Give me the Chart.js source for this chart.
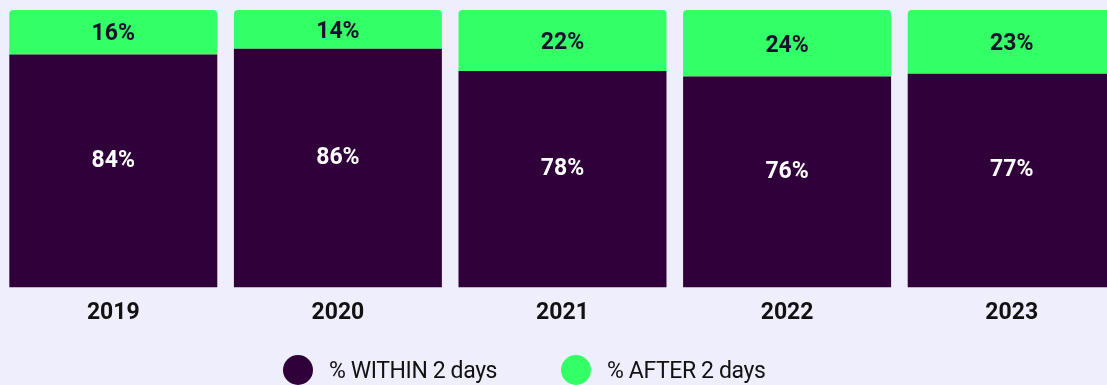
<!DOCTYPE html>
<html>
<head>
<meta charset="utf-8">
<script src="https://cdn.jsdelivr.net/npm/chart.js@4.4.0/dist/chart.umd.min.js"></script>
<style>
  html, body { margin: 0; padding: 0; background: #efeefc; overflow: hidden; }
  #wrap { position: relative; width: 1124px; height: 385px; }
  #legend { position: absolute; top: 355px; left: 283px; display: flex; align-items: center;
    font-family: "Roboto", sans-serif; font-size: 23px; letter-spacing: -0.4px; color: #111; }
  .item { display: flex; align-items: center; margin-right: 64px; }
  .dot { width: 30px; height: 30px; border-radius: 50%; margin-right: 16px; }
</style>
</head>
<body>
<div id="wrap">
  <canvas id="chart" width="1124" height="385"></canvas>
  <div id="legend"></div>
</div>
<script>
const years = ['2019', '2020', '2021', '2022', '2023'];
const within = [84, 86, 78, 76, 77];
const after = [16, 14, 22, 24, 23];
const seriesNames = ['% WITHIN 2 days', '% AFTER 2 days'];

const purple = '#2f0039';
const green = '#33ff66';

// draws the % value inside each segment
const segmentLabels = {
  id: 'segmentLabels',
  afterDatasetsDraw(chart) {
    const ctx = chart.ctx;
    ctx.save();
    ctx.textAlign = 'center';
    ctx.textBaseline = 'middle';
    ctx.font = 'bold 23px Roboto, sans-serif';
    chart.data.datasets.forEach((ds, i) => {
      const meta = chart.getDatasetMeta(i);
      meta.data.forEach((bar, j) => {
        const mid = (bar.y + bar.base) / 2;
        ctx.fillStyle = i === 0 ? '#ffffff' : '#1b1030';
        const y = i === 0 ? mid - 10 : mid + 2.5;
        ctx.fillText(ds.data[j] + '%', bar.x, y);
      });
    });
    ctx.restore();
  }
};

new Chart(document.getElementById('chart'), {
  type: 'bar',
  data: {
    labels: years,
    datasets: [
      { label: seriesNames[0], data: within, backgroundColor: purple, borderRadius: 0 },
      { label: seriesNames[1], data: after, backgroundColor: green,
        borderRadius: { topLeft: 4, topRight: 4, bottomLeft: 0, bottomRight: 0 }, borderSkipped: false }
    ]
  },
  options: {
    responsive: false,
    animation: false,
    layout: { padding: { left: 1, right: 0, top: 10, bottom: 54 } },
    datasets: { bar: { categoryPercentage: 1, barPercentage: 0.926 } },
    plugins: { legend: { display: false }, tooltip: { enabled: false } },
    scales: {
      x: {
        stacked: true,
        grid: { display: false },
        border: { display: false },
        ticks: { color: '#111', font: { family: 'Roboto', weight: 'bold', size: 23 }, padding: 4 }
      },
      y: { stacked: true, display: false, min: 0, max: 100 }
    }
  },
  plugins: [segmentLabels]
});

// legend built from the series names
const legend = document.getElementById('legend');
[purple, green].forEach((c, i) => {
  const item = document.createElement('div');
  item.className = 'item';
  item.innerHTML = '<span class="dot" style="background:' + c + '"></span>' + seriesNames[i];
  legend.appendChild(item);
});
</script>
</body>
</html>
